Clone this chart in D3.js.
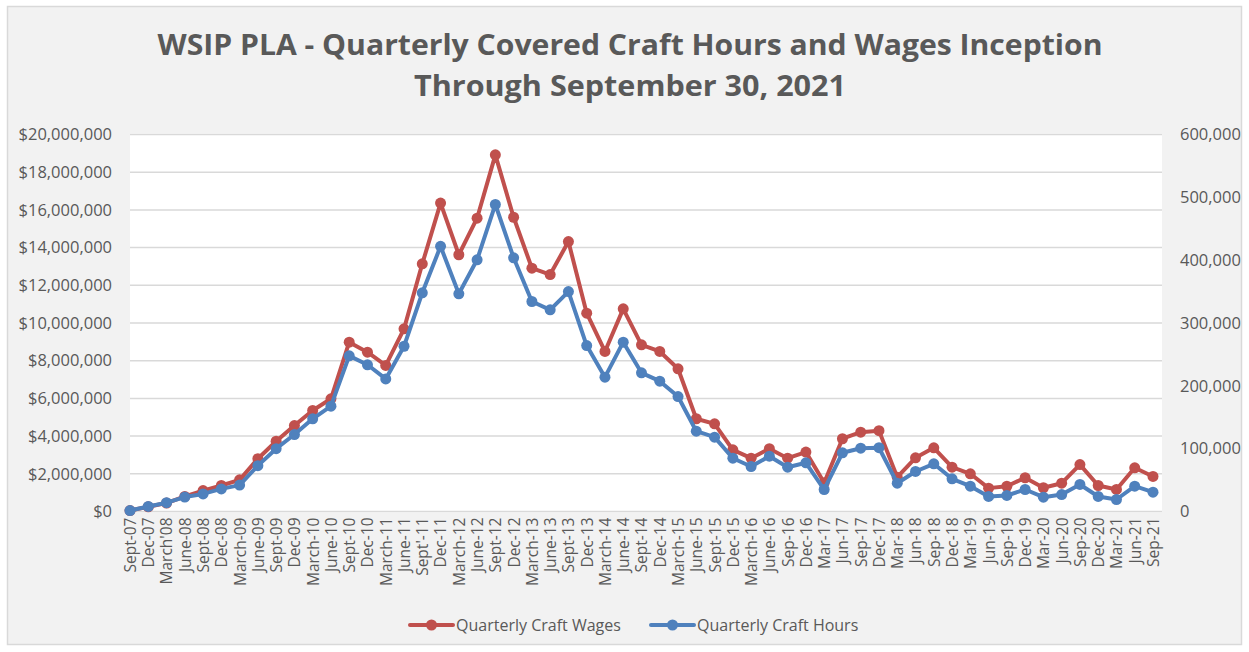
<!DOCTYPE html>
<html>
<head>
<meta charset="utf-8">
<script src="https://cdn.jsdelivr.net/npm/d3@7"></script>
<style>
  html, body { margin: 0; padding: 0; background: #ffffff; }
  svg { display: block; }
</style>
</head>
<body>
<svg id="chart" width="1249" height="652"></svg>
<script>
const categories = ["Sept-07","Dec-07","March'08","June-08","Sept-08","Dec-08","March-09","June-09","Sept-09","Dec-09",
  "March-10","June-10","Sept-10","Dec-10","March-11","June-11","Sept'-11","Dec-11","March-12","June-12",
  "Sept-12","Dec-12","March-13","June-13","Sept-13","Dec-13","March-14","June-14","Sept-14","Dec-14",
  "March-15","June-15","Sept-15","Dec-15","March-16","June-16","Sep-16","Dec-16","Mar-17","Jun-17",
  "Sep-17","Dec-17","Mar-18","Jun-18","Sep-18","Dec-18","Mar-19","Jun-19","Sep-19","Dec-19",
  "Mar-20","Jun-20","Sep-20","Dec-20","Mar-21","Jun-21","Sep-21"];

const wages = [50000, 250000, 450000, 800000, 1110000, 1380000, 1680000, 2800000, 3730000, 4560000,
  5360000, 5980000, 8980000, 8450000, 7750000, 9690000, 13140000, 16360000, 13620000, 15560000,
  18920000, 15610000, 12910000, 12570000, 14320000, 10520000, 8490000, 10750000, 8840000, 8490000,
  7570000, 4920000, 4650000, 3270000, 2830000, 3330000, 2830000, 3150000, 1520000, 3860000,
  4210000, 4290000, 1820000, 2850000, 3380000, 2350000, 2000000, 1240000, 1340000, 1790000,
  1260000, 1500000, 2490000, 1380000, 1170000, 2320000, 1860000];

const hours = [1500, 8000, 14000, 23000, 28000, 36000, 42000, 73000, 100000, 122500,
  147500, 167600, 247700, 233500, 211000, 263000, 348000, 422000, 346500, 400600,
  488600, 403800, 334200, 321000, 350000, 264000, 213800, 269500, 220700, 207400,
  183000, 127800, 118300, 84800, 71600, 88000, 70500, 77500, 35000, 93400,
  100700, 101500, 45000, 63700, 75900, 52000, 40300, 23900, 25500, 35000,
  22800, 27000, 43000, 23900, 19100, 40300, 30700];

const leftTicks = [0, 2000000, 4000000, 6000000, 8000000, 10000000, 12000000, 14000000, 16000000, 18000000, 20000000];
const rightTicks = [0, 100000, 200000, 300000, 400000, 500000, 600000];
const titleLines = ["WSIP PLA - Quarterly Covered Craft Hours and Wages Inception", "Through September 30, 2021"];
const seriesNames = ["Quarterly Craft Wages", "Quarterly Craft Hours"];

const W = 1249, H = 652;
const red = "#C0504D", blue = "#4F81BD";
const textColor = "#595959";
const font = "'Open Sans', Carlito, Calibri, sans-serif";

const svg = d3.select("#chart");

// chart area background + border
svg.append("rect").attr("x", 0).attr("y", 0).attr("width", W).attr("height", H).attr("fill", "#ffffff");
svg.append("rect").attr("x", 7.5).attr("y", 6.5).attr("width", 1234).attr("height", 638)
  .attr("fill", "#f2f2f2").attr("stroke", "#d9d9d9").attr("stroke-width", 1.5);

const plot = { left: 130, right: 1162, top: 134.5, bottom: 511.5 };
svg.append("rect").attr("x", plot.left).attr("y", plot.top - 1)
  .attr("width", plot.right - plot.left).attr("height", plot.bottom - plot.top + 2).attr("fill", "#ffffff");

const x = d3.scalePoint().domain(categories).range([130, 1153]);
const yL = d3.scaleLinear().domain([0, 20000000]).range([plot.bottom, plot.top]);
const yR = d3.scaleLinear().domain([0, 600000]).range([plot.bottom, plot.top]);

// gridlines
svg.append("g").selectAll("line").data(leftTicks).join("line")
  .attr("x1", plot.left).attr("x2", plot.right)
  .attr("y1", d => yL(d)).attr("y2", d => yL(d))
  .attr("stroke", "#d9d9d9").attr("stroke-width", 1.5);

// left axis
const leftAxis = d3.axisLeft(yL).tickValues(leftTicks).tickSize(0).tickPadding(0)
  .tickFormat(d => "$" + d3.format(",")(d));
const gL = svg.append("g").attr("transform", `translate(112,0)`).call(leftAxis);
gL.select(".domain").remove();
gL.selectAll("text").attr("fill", textColor).attr("font-family", font).attr("font-size", "16.5px");

// right axis
const rightAxis = d3.axisRight(yR).tickValues(rightTicks).tickSize(0).tickPadding(0)
  .tickFormat(d3.format(","));
const gR = svg.append("g").attr("transform", `translate(1180,0)`).call(rightAxis);
gR.select(".domain").remove();
gR.selectAll("text").attr("fill", textColor).attr("font-family", font).attr("font-size", "16.5px");

// bottom axis (rotated labels)
const bottomAxis = d3.axisBottom(x).tickSize(0).tickPadding(0);
const gB = svg.append("g").attr("transform", `translate(0,${plot.bottom})`).call(bottomAxis);
gB.select(".domain").remove();
gB.selectAll("text")
  .attr("fill", textColor).attr("font-family", font).attr("font-size", "15.5px")
  .attr("transform", "rotate(-90)")
  .attr("text-anchor", "end")
  .attr("x", -6).attr("y", 0).attr("dy", "0.35em");

// lines
function drawSeries(values, yScale, color) {
  const line = d3.line().x((d, i) => x(categories[i])).y(d => yScale(d));
  svg.append("path").datum(values).attr("d", line)
    .attr("fill", "none").attr("stroke", color).attr("stroke-width", 4)
    .attr("stroke-linejoin", "round").attr("stroke-linecap", "round");
  svg.append("g").selectAll("circle").data(values).join("circle")
    .attr("cx", (d, i) => x(categories[i])).attr("cy", d => yScale(d))
    .attr("r", 5.5).attr("fill", color);
}
drawSeries(wages, yL, red);
drawSeries(hours, yR, blue);

// title
const titleWidths = [945, 432];
svg.append("g").selectAll("text").data(titleLines).join("text")
  .attr("x", 630).attr("y", (d, i) => 55 + i * 41)
  .attr("text-anchor", "middle")
  .attr("font-family", font).attr("font-weight", "bold").attr("font-size", "29px")
  .attr("fill", textColor)
  .attr("textLength", (d, i) => titleWidths[i]).attr("lengthAdjust", "spacingAndGlyphs")
  .text(d => d);

// legend
const legend = [
  { name: seriesNames[0], color: red, x0: 410 },
  { name: seriesNames[1], color: blue, x0: 651 }
];
const lg = svg.append("g");
legend.forEach(l => {
  lg.append("line").attr("x1", l.x0).attr("x2", l.x0 + 43).attr("y1", 625).attr("y2", 625)
    .attr("stroke", l.color).attr("stroke-width", 4).attr("stroke-linecap", "round");
  lg.append("circle").attr("cx", l.x0 + 21.5).attr("cy", 625).attr("r", 5.5).attr("fill", l.color);
  lg.append("text").attr("x", l.x0 + 46).attr("y", 625).attr("dy", "0.35em")
    .attr("font-family", font).attr("font-size", "16px").attr("fill", textColor).text(l.name);
});
</script>
</body>
</html>
